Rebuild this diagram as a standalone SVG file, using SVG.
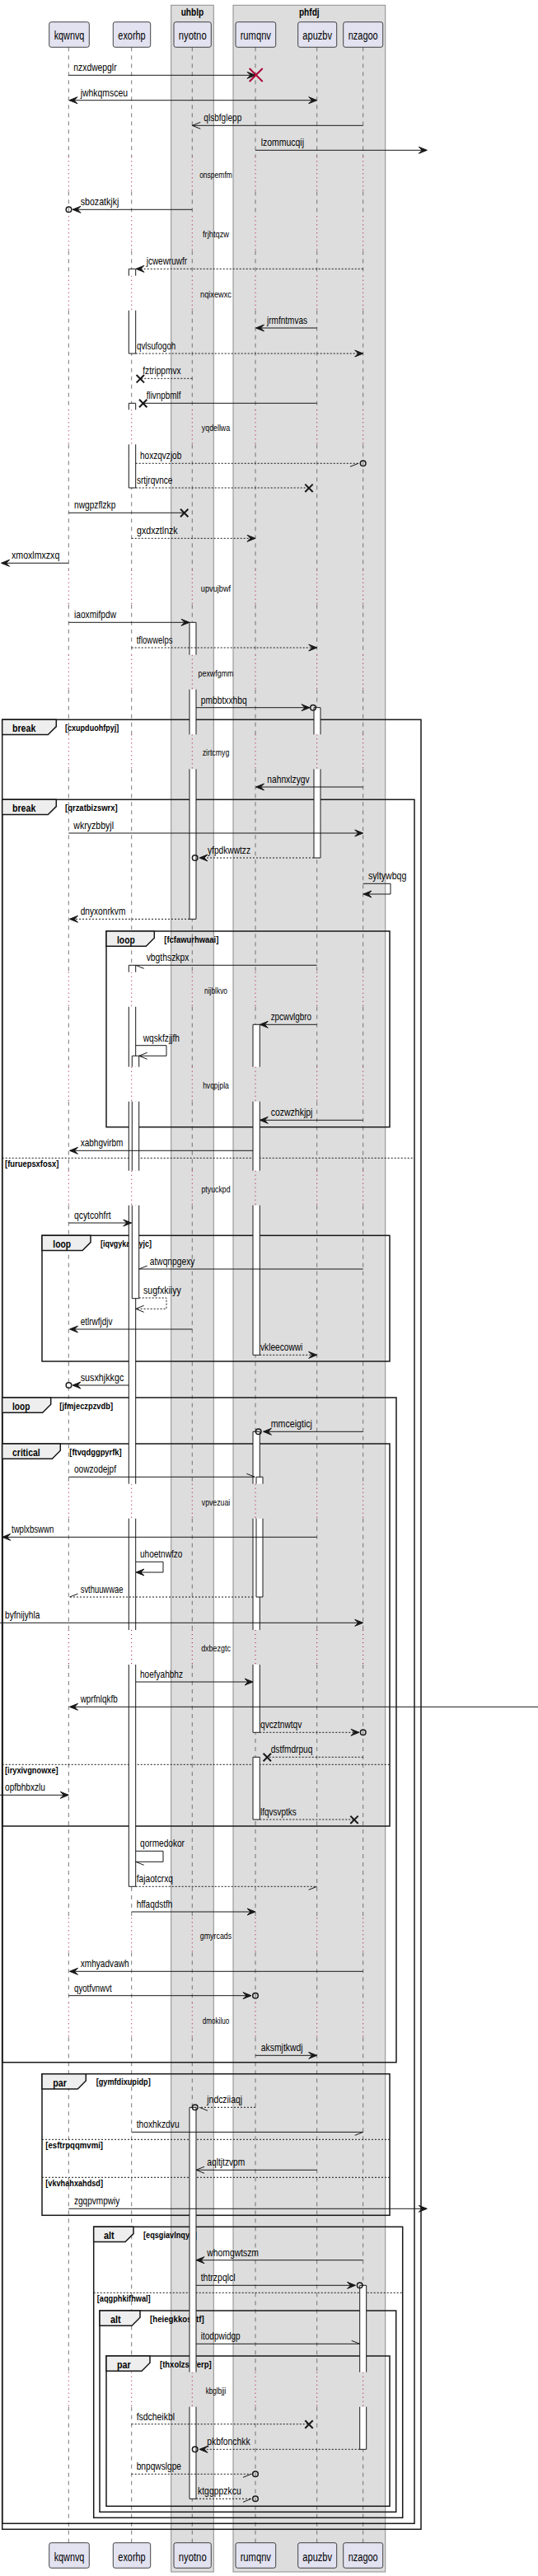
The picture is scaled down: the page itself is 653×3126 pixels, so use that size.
<svg xmlns="http://www.w3.org/2000/svg" xmlns:xlink="http://www.w3.org/1999/xlink" width="653" height="3126" viewBox="0 0 653 3126">
<style>
text{font-family:"Liberation Sans",Arial,sans-serif;fill:#000}
.bx{fill:#DDDDDD;stroke:#8C8C8C;stroke-width:1}
.bt{font-size:13px;font-weight:bold;text-anchor:middle}
.ll{stroke:#555;stroke-width:0.8;stroke-dasharray:5,5;fill:none}
.dl{stroke:#A80036;stroke-width:1;stroke-dasharray:1,4;fill:none}
.pb{fill:#E2E2F0;stroke:#181818;stroke-width:0.8}
.pt{font-size:14px;text-anchor:middle}
.fr{fill:none;stroke:#181818;stroke-width:1.5}
.tab{fill:#EEEEEE;stroke:#181818;stroke-width:1.5}
.tt{font-size:13px;font-weight:bold}
.ct{font-size:11px;font-weight:bold}
.el{stroke:#181818;stroke-width:1;stroke-dasharray:2,2;fill:none}
.af{fill:#fff;stroke:none}
.ae{fill:none;stroke:#181818;stroke-width:1}
.m{stroke:#181818;stroke-width:1;fill:none}
.d{stroke-dasharray:2,2}
.ml{font-size:13px}
.dt{font-size:11px;text-anchor:middle}
.hd{fill:#181818;stroke:#181818;stroke-width:1}
.hs{fill:none;stroke:#181818;stroke-width:1}
.c{fill:none;stroke:#181818;stroke-width:1.5}
.x{stroke:#181818;stroke-width:2;fill:none}
</style>
<defs>
<path id="LD" d="M0,57.3V190.3M0,232.3V262.3M0,304.3V334.7M0,376.7V497.3M0,539.3V691.7M0,733.7V794.7M0,836.7V891.3M0,933.3V1179.7M0,1221.7V1294.7M0,1336.7V1420.7M0,1462.7V1800.7M0,1842.7V1978M0,2020V2327.3M0,2369.3V2430.3M0,2472.3V2878.7M0,2920.7V3085.7"/>
<path id="LZ" d="M0,190.3V232.3M0,262.3V304.3M0,334.7V376.7M0,497.3V539.3M0,691.7V733.7M0,794.7V836.7M0,891.3V933.3M0,1179.7V1221.7M0,1294.7V1336.7M0,1420.7V1462.7M0,1800.7V1842.7M0,1978V2020M0,2327.3V2369.3M0,2430.3V2472.3M0,2878.7V2920.7"/>
<path id="ar" d="M0,0L-10,-4L-6,0L-10,4Z"/>
<path id="al" d="M0,0L10,-4L6,0L10,4Z"/>
<path id="or" d="M-10,-4L0,0L-10,4"/>
<path id="ol" d="M10,-4L0,0L10,4"/>
<path id="hrd" d="M0,0L-10,4"/>
<path id="hru" d="M0,0L-10,-4"/>
<path id="hld" d="M0,0L10,4"/>
<path id="hlu" d="M0,0L10,-4"/>
<path id="xs" d="M-4.7,-4.7L4.7,4.7M-4.7,4.7L4.7,-4.7"/>
</defs>
<rect width="653" height="3126" fill="#fff"/>
<g id="box-uhblp">
<rect class="bx" x="207.7" y="6.3" width="51.6" height="3114.7"/>
<text class="bt" x="233.5" y="18.7" textLength="27.7" lengthAdjust="spacingAndGlyphs">uhblp</text>
</g>
<g id="box-phfdj">
<rect class="bx" x="283" y="6.3" width="184.7" height="3114.7"/>
<text class="bt" x="375.3" y="18.7" textLength="24.7" lengthAdjust="spacingAndGlyphs">phfdj</text>
</g>
<g id="lifelines">
<use href="#LD" x="83.3" class="ll"/><use href="#LZ" x="83.3" class="dl"/>
<use href="#LD" x="159.7" class="ll"/><use href="#LZ" x="159.7" class="dl"/>
<use href="#LD" x="233.3" class="ll"/><use href="#LZ" x="233.3" class="dl"/>
<use href="#LD" x="310" class="ll"/><use href="#LZ" x="310" class="dl"/>
<use href="#LD" x="384.7" class="ll"/><use href="#LZ" x="384.7" class="dl"/>
<use href="#LD" x="440.7" class="ll"/><use href="#LZ" x="440.7" class="dl"/>
</g>
<g id="delays">
<text class="dt" x="262" y="216.3" textLength="39.7" lengthAdjust="spacingAndGlyphs">onspemfm</text>
<text class="dt" x="262" y="288.3" textLength="32" lengthAdjust="spacingAndGlyphs">frjhtqzw</text>
<text class="dt" x="262" y="360.7" textLength="38" lengthAdjust="spacingAndGlyphs">nqixewxc</text>
<text class="dt" x="262" y="523.3" textLength="34.3" lengthAdjust="spacingAndGlyphs">yqdellwa</text>
<text class="dt" x="262" y="717.7" textLength="36.3" lengthAdjust="spacingAndGlyphs">upvujbwf</text>
<text class="dt" x="262" y="820.7" textLength="43" lengthAdjust="spacingAndGlyphs">pexwfgmm</text>
<text class="dt" x="262" y="917.3" textLength="32.7" lengthAdjust="spacingAndGlyphs">zirtcmyg</text>
<text class="dt" x="262" y="1205.7" textLength="28" lengthAdjust="spacingAndGlyphs">nijblkvo</text>
<text class="dt" x="262" y="1320.7" textLength="31.7" lengthAdjust="spacingAndGlyphs">hvqpjpla</text>
<text class="dt" x="262" y="1446.7" textLength="35" lengthAdjust="spacingAndGlyphs">ptyuckpd</text>
<text class="dt" x="262" y="1826.7" textLength="34.3" lengthAdjust="spacingAndGlyphs">vpvezuai</text>
<text class="dt" x="262" y="2004" textLength="35.7" lengthAdjust="spacingAndGlyphs">dxbezgtc</text>
<text class="dt" x="262" y="2353.3" textLength="38.3" lengthAdjust="spacingAndGlyphs">gmyrcads</text>
<text class="dt" x="262" y="2456.3" textLength="32.7" lengthAdjust="spacingAndGlyphs">dmokiluo</text>
<text class="dt" x="262" y="2904.7" textLength="24.7" lengthAdjust="spacingAndGlyphs">kbglbjji</text>
</g>
<g id="frame-break-cxupduohfpyj">
<rect class="fr" x="2.7" y="873.3" width="508.3" height="2196"/>
<polygon class="tab" points="2.7,873.3 68.3,873.3 68.3,881.6 58.3,891.6 2.7,891.6"/>
<text class="tt" x="15" y="888.3" textLength="28.3" lengthAdjust="spacingAndGlyphs">break</text>
<text class="ct" x="79" y="887" textLength="65.3" lengthAdjust="spacingAndGlyphs">[cxupduohfpyj]</text>
</g>
<g id="frame-break-qrzatbizswrx">
<rect class="fr" x="2.7" y="970.3" width="500.3" height="2092"/>
<polygon class="tab" points="2.7,970.3 68.3,970.3 68.3,978.6 58.3,988.6 2.7,988.6"/>
<text class="tt" x="15" y="985.3" textLength="28.3" lengthAdjust="spacingAndGlyphs">break</text>
<text class="ct" x="79" y="984" textLength="63.7" lengthAdjust="spacingAndGlyphs">[qrzatbizswrx]</text>
<path class="el" d="M2.7,1405.3H503"/>
<text class="ct" x="6" y="1416.3" textLength="65.3" lengthAdjust="spacingAndGlyphs">[furuepsxfosx]</text>
</g>
<g id="frame-loop-fcfawurhwaai">
<rect class="fr" x="129" y="1130" width="344" height="237.7"/>
<polygon class="tab" points="129,1130 187.3,1130 187.3,1138.3 177.3,1148.3 129,1148.3"/>
<text class="tt" x="142" y="1145" textLength="21.7" lengthAdjust="spacingAndGlyphs">loop</text>
<text class="ct" x="199.3" y="1143.7" textLength="66" lengthAdjust="spacingAndGlyphs">[fcfawurhwaai]</text>
</g>
<g id="frame-loop-iqvgykahyyjc">
<rect class="fr" x="51" y="1499.3" width="422" height="152.7"/>
<polygon class="tab" points="51,1499.3 110,1499.3 110,1507.6 100,1517.6 51,1517.6"/>
<text class="tt" x="64.3" y="1514.3" textLength="21.7" lengthAdjust="spacingAndGlyphs">loop</text>
<text class="ct" x="122" y="1513" textLength="62" lengthAdjust="spacingAndGlyphs">[iqvgykahyyjc]</text>
</g>
<g id="frame-loop-jfmjeczpzvdb">
<rect class="fr" x="2.7" y="1696" width="478.3" height="806.7"/>
<polygon class="tab" points="2.7,1696 61.7,1696 61.7,1704.3 51.7,1714.3 2.7,1714.3"/>
<text class="tt" x="15" y="1711" textLength="21.3" lengthAdjust="spacingAndGlyphs">loop</text>
<text class="ct" x="72.3" y="1709.7" textLength="64.7" lengthAdjust="spacingAndGlyphs">[jfmjeczpzvdb]</text>
</g>
<g id="frame-critical-ftvqdggpyrfk">
<rect class="fr" x="2.7" y="1752" width="470.3" height="464"/>
<polygon class="tab" points="2.7,1752 73.3,1752 73.3,1760.3 63.3,1770.3 2.7,1770.3"/>
<text class="tt" x="15" y="1767" textLength="33.7" lengthAdjust="spacingAndGlyphs">critical</text>
<text class="ct" x="84.3" y="1765.7" textLength="63.3" lengthAdjust="spacingAndGlyphs">[ftvqdggpyrfk]</text>
<path class="el" d="M2.7,2141.3H473"/>
<text class="ct" x="6" y="2152.3" textLength="64.7" lengthAdjust="spacingAndGlyphs">[iryxivgnowxe]</text>
</g>
<g id="frame-par-gymfdixupidp">
<rect class="fr" x="51" y="2516.7" width="422" height="171.6"/>
<polygon class="tab" points="51,2516.7 104.3,2516.7 104.3,2525 94.3,2535 51,2535"/>
<text class="tt" x="64.3" y="2531.7" textLength="16.7" lengthAdjust="spacingAndGlyphs">par</text>
<text class="ct" x="116.7" y="2530.4" textLength="66" lengthAdjust="spacingAndGlyphs">[gymfdixupidp]</text>
<path class="el" d="M51,2596.3H473"/>
<text class="ct" x="55.3" y="2607.3" textLength="69.7" lengthAdjust="spacingAndGlyphs">[esftrpqqmvmi]</text>
<path class="el" d="M51,2642.3H473"/>
<text class="ct" x="55.3" y="2653.3" textLength="69.7" lengthAdjust="spacingAndGlyphs">[vkvhahxahdsd]</text>
</g>
<g id="frame-alt-eqsgiavlnqyh">
<rect class="fr" x="113.7" y="2702.3" width="375" height="353"/>
<polygon class="tab" points="113.7,2702.3 162,2702.3 162,2710.6 152,2720.6 113.7,2720.6"/>
<text class="tt" x="126" y="2717.3" textLength="12.7" lengthAdjust="spacingAndGlyphs">alt</text>
<text class="ct" x="174" y="2716" textLength="64.7" lengthAdjust="spacingAndGlyphs">[eqsgiavlnqyh]</text>
<path class="el" d="M113.7,2782.3H488.7"/>
<text class="ct" x="117.7" y="2793.3" textLength="65" lengthAdjust="spacingAndGlyphs">[aqgphkifhwal]</text>
</g>
<g id="frame-alt-heiegkkosktf">
<rect class="fr" x="121" y="2804" width="359.7" height="244.3"/>
<polygon class="tab" points="121,2804 170,2804 170,2812.3 160,2822.3 121,2822.3"/>
<text class="tt" x="134" y="2819" textLength="12.7" lengthAdjust="spacingAndGlyphs">alt</text>
<text class="ct" x="182" y="2817.7" textLength="65.7" lengthAdjust="spacingAndGlyphs">[heiegkkosktf]</text>
</g>
<g id="frame-par-thxolzspferp">
<rect class="fr" x="129" y="2859" width="344" height="182.3"/>
<polygon class="tab" points="129,2859 182,2859 182,2867.3 172,2877.3 129,2877.3"/>
<text class="tt" x="142" y="2874" textLength="16.7" lengthAdjust="spacingAndGlyphs">par</text>
<text class="ct" x="194" y="2872.7" textLength="62.7" lengthAdjust="spacingAndGlyphs">[thxolzspferp]</text>
</g>
<g id="activations">
<g id="act-exorhp-1">
<rect class="af" x="156.3" y="326.3" width="8.4" height="8.4"/><rect class="af" x="156.3" y="376.7" width="8.4" height="52.3"/>
<path class="ae" d="M156.3,326.3H164.7M156.3,326.3V334.7M164.7,326.3V334.7M156.3,376.7V429M164.7,376.7V429M156.3,429H164.7"/>
</g>
<g id="act-exorhp-2">
<rect class="af" x="156.3" y="489.3" width="8.4" height="8"/><rect class="af" x="156.3" y="539.3" width="8.4" height="52.7"/>
<path class="ae" d="M156.3,489.3H164.7M156.3,489.3V497.3M164.7,489.3V497.3M156.3,539.3V592M164.7,539.3V592M156.3,592H164.7"/>
</g>
<g id="act-nyotno-1">
<rect class="af" x="230" y="755.3" width="8" height="39.4"/><rect class="af" x="230" y="836.7" width="8" height="54.6"/><rect class="af" x="230" y="933.3" width="8" height="182"/>
<path class="ae" d="M230,755.3H238M230,755.3V794.7M238,755.3V794.7M230,836.7V891.3M238,836.7V891.3M230,933.3V1115.3M238,933.3V1115.3M230,1115.3H238"/>
</g>
<g id="act-apuzbv-1">
<rect class="af" x="381" y="858.7" width="8" height="32.6"/><rect class="af" x="381" y="933.3" width="8" height="107.7"/>
<path class="ae" d="M381,858.7H389M381,858.7V891.3M389,858.7V891.3M381,933.3V1041M389,933.3V1041M381,1041H389"/>
</g>
<g id="act-exorhp-3">
<rect class="af" x="156.3" y="1171.3" width="8.4" height="8.4"/><rect class="af" x="156.3" y="1221.7" width="8.4" height="73"/><rect class="af" x="156.3" y="1336.7" width="8.4" height="84"/><rect class="af" x="156.3" y="1462.7" width="8.4" height="338"/><rect class="af" x="156.3" y="1842.7" width="8.4" height="135.3"/><rect class="af" x="156.3" y="2020" width="8.4" height="269.3"/>
<path class="ae" d="M156.3,1171.3H164.7M156.3,1171.3V1179.7M164.7,1171.3V1179.7M156.3,1221.7V1294.7M164.7,1221.7V1294.7M156.3,1336.7V1420.7M164.7,1336.7V1420.7M156.3,1462.7V1800.7M164.7,1462.7V1800.7M156.3,1842.7V1978M164.7,1842.7V1978M156.3,2020V2289.3M164.7,2020V2289.3M156.3,2289.3H164.7"/>
</g>
<g id="act-exorhp-4">
<rect class="af" x="160.3" y="1281.3" width="8.4" height="13.4"/><rect class="af" x="160.3" y="1336.7" width="8.4" height="84"/><rect class="af" x="160.3" y="1462.7" width="8.4" height="113"/>
<path class="ae" d="M160.3,1281.3H168.7M160.3,1281.3V1294.7M168.7,1281.3V1294.7M160.3,1336.7V1420.7M168.7,1336.7V1420.7M160.3,1462.7V1575.7M168.7,1462.7V1575.7M160.3,1575.7H168.7"/>
</g>
<g id="act-rumqnv-1">
<rect class="af" x="307" y="1243.3" width="8.3" height="51.4"/><rect class="af" x="307" y="1336.7" width="8.3" height="84"/><rect class="af" x="307" y="1462.7" width="8.3" height="181.6"/>
<path class="ae" d="M307,1243.3H315.3M307,1243.3V1294.7M315.3,1243.3V1294.7M307,1336.7V1420.7M315.3,1336.7V1420.7M307,1462.7V1644.3M315.3,1462.7V1644.3M307,1644.3H315.3"/>
</g>
<g id="act-rumqnv-2">
<rect class="af" x="307" y="1737.3" width="8.3" height="63.4"/><rect class="af" x="307" y="1842.7" width="8.3" height="135.3"/><rect class="af" x="307" y="2020" width="8.3" height="82.3"/>
<path class="ae" d="M307,1737.3H315.3M307,1737.3V1800.7M315.3,1737.3V1800.7M307,1842.7V1978M315.3,1842.7V1978M307,2020V2102.3M315.3,2020V2102.3M307,2102.3H315.3"/>
</g>
<g id="act-rumqnv-3">
<rect class="af" x="311" y="1792.3" width="8" height="8.4"/><rect class="af" x="311" y="1842.7" width="8" height="95.3"/>
<path class="ae" d="M311,1792.3H319M311,1792.3V1800.7M319,1792.3V1800.7M311,1842.7V1938M319,1842.7V1938M311,1938H319"/>
</g>
<g id="act-rumqnv-4">
<rect class="af" x="307" y="2132.3" width="8.3" height="75.7"/>
<path class="ae" d="M307,2132.3H315.3V2208H307Z"/>
</g>
<g id="act-nyotno-2">
<rect class="af" x="230" y="2557.3" width="8" height="321.4"/><rect class="af" x="230" y="2920.7" width="8" height="111.6"/>
<path class="ae" d="M230,2557.3H238M230,2557.3V2878.7M238,2557.3V2878.7M230,2920.7V3032.3M238,2920.7V3032.3M230,3032.3H238"/>
</g>
<g id="act-nzagoo-1">
<rect class="af" x="436.7" y="2773.3" width="8" height="105.4"/><rect class="af" x="436.7" y="2920.7" width="8" height="51.6"/>
<path class="ae" d="M436.7,2773.3H444.7M436.7,2773.3V2878.7M444.7,2773.3V2878.7M436.7,2920.7V2972.3M444.7,2920.7V2972.3M436.7,2972.3H444.7"/>
</g>
</g>
<g id="connectors">
<path class="m" d="M83.3,91.3H310"/><use href="#ar" x="310" y="91.3" class="hd"/>
<path d="M302.7,83L318.7,99M302.7,99L318.7,83" stroke="#A80036" stroke-width="2" fill="none"/>
<text class="ml" x="89.3" y="86.3" textLength="52.3" lengthAdjust="spacingAndGlyphs">nzxdwepglr</text>

<path class="m" d="M84,121.7H384"/><use href="#al" x="84" y="121.7" class="hd"/><use href="#ar" x="384.7" y="121.7" class="hd"/>
<text class="ml" x="97.7" y="116.7" textLength="57.3" lengthAdjust="spacingAndGlyphs">jwhkqmsceu</text>

<path class="m" d="M440.7,152.3H233.3"/><use href="#ol" x="233.3" y="152.3" class="hs"/>
<text class="ml" x="247.3" y="147.3" textLength="46" lengthAdjust="spacingAndGlyphs">qlsbfglepp</text>

<path class="m" d="M310,182.3H518"/><use href="#ar" x="518.3" y="182.3" class="hd"/>
<text class="ml" x="316.7" y="177.3" textLength="52.3" lengthAdjust="spacingAndGlyphs">lzommucqij</text>

<path class="m" d="M233.3,254.3H88"/><use href="#al" x="88" y="254.3" class="hd"/><circle class="c" cx="83.5" cy="254.3" r="3.3"/>
<text class="ml" x="97.7" y="249.3" textLength="46.7" lengthAdjust="spacingAndGlyphs">sbozatkjkj</text>

<path class="m d" d="M440.7,326.3H165"/><use href="#al" x="165" y="326.3" class="hd"/>
<text class="ml" x="177.7" y="321.3" textLength="49.3" lengthAdjust="spacingAndGlyphs">jcwewruwfr</text>

<path class="m" d="M384.7,398H311"/><use href="#al" x="310.5" y="398" class="hd"/>
<text class="ml" x="324" y="393" textLength="49" lengthAdjust="spacingAndGlyphs">jrmfntmvas</text>

<path class="m d" d="M164.7,429H440"/><use href="#ar" x="440.7" y="429" class="hd"/>
<text class="ml" x="166" y="424" textLength="47.3" lengthAdjust="spacingAndGlyphs">qvlsufogoh</text>

<path class="m d" d="M233.3,459.3H170.3"/><use href="#xs" x="170.3" y="459.7" class="x"/>
<text class="ml" x="173.3" y="454.3" textLength="46.3" lengthAdjust="spacingAndGlyphs">fztrippmvx</text>

<path class="m" d="M384.7,489.3H173.7"/><use href="#xs" x="173.7" y="489.5" class="x"/>
<text class="ml" x="177.7" y="484.3" textLength="41.7" lengthAdjust="spacingAndGlyphs">flivnpbmlf</text>

<path class="m d" d="M164.7,562.3H437"/><use href="#hrd" x="435" y="562.3" class="hs"/><circle class="c" cx="440.7" cy="562.3" r="3.3"/>
<text class="ml" x="170" y="557.3" textLength="50.3" lengthAdjust="spacingAndGlyphs">hoxzqvzjob</text>

<path class="m d" d="M164.7,592H375"/><use href="#xs" x="375" y="592.3" class="x"/>
<text class="ml" x="166" y="587" textLength="43.3" lengthAdjust="spacingAndGlyphs">srtjrqvnce</text>

<path class="m" d="M83.3,622.3H223.7"/><use href="#xs" x="223.7" y="622.5" class="x"/>
<text class="ml" x="90" y="617.3" textLength="50.3" lengthAdjust="spacingAndGlyphs">nwgpzflzkp</text>

<path class="m d" d="M159.7,653.3H309"/><use href="#ar" x="310" y="653.3" class="hd"/>
<text class="ml" x="166" y="648.3" textLength="49.7" lengthAdjust="spacingAndGlyphs">gxdxztlnzk</text>

<path class="m" d="M83.3,683.3H2"/><use href="#al" x="1.5" y="683.3" class="hd"/>
<text class="ml" x="14" y="678.3" textLength="58.3" lengthAdjust="spacingAndGlyphs">xmoxlmxzxq</text>

<path class="m" d="M83.3,755.3H229"/><use href="#ar" x="230" y="755.3" class="hd"/>
<text class="ml" x="90" y="750.3" textLength="51" lengthAdjust="spacingAndGlyphs">iaoxmifpdw</text>

<path class="m d" d="M159.7,786H384"/><use href="#ar" x="384.7" y="786" class="hd"/>
<text class="ml" x="165.7" y="781" textLength="43.7" lengthAdjust="spacingAndGlyphs">tflowwelps</text>

<path class="m" d="M238,858.7H375"/><use href="#ar" x="376" y="858.7" class="hd"/><circle class="c" cx="380" cy="858.7" r="3.3"/>
<text class="ml" x="243.7" y="853.7" textLength="56" lengthAdjust="spacingAndGlyphs">pmbbtxxhbq</text>

<path class="m" d="M440.7,955H311"/><use href="#al" x="310.5" y="955" class="hd"/>
<text class="ml" x="324.3" y="950" textLength="51.3" lengthAdjust="spacingAndGlyphs">nahnxlzygv</text>

<path class="m" d="M83.3,1011H440"/><use href="#ar" x="440.7" y="1011" class="hd"/>
<text class="ml" x="89.3" y="1006" textLength="48.7" lengthAdjust="spacingAndGlyphs">wkryzbbyjl</text>

<path class="m d" d="M381,1041H243"/><use href="#al" x="242" y="1041" class="hd"/><circle class="c" cx="236.7" cy="1041" r="3.3"/>
<text class="ml" x="252" y="1036" textLength="52" lengthAdjust="spacingAndGlyphs">yfpdkwwtzz</text>

<path class="m" d="M440.7,1072.3H474V1085H442"/><use href="#al" x="441" y="1085" class="hd"/>
<text class="ml" x="447" y="1067.3" textLength="46.3" lengthAdjust="spacingAndGlyphs">syltywbqg</text>

<path class="m d" d="M230,1115.3H85"/><use href="#al" x="84.5" y="1115.3" class="hd"/>
<text class="ml" x="97.7" y="1110.3" textLength="54.7" lengthAdjust="spacingAndGlyphs">dnyxonrkvm</text>

<path class="m" d="M384.7,1171.3H164.7"/><use href="#hld" x="164.7" y="1171.3" class="hs"/>
<text class="ml" x="177.7" y="1166.3" textLength="51.7" lengthAdjust="spacingAndGlyphs">vbgthszkpx</text>

<path class="m" d="M384.7,1243.3H316"/><use href="#al" x="315.3" y="1243.3" class="hd"/>
<text class="ml" x="328.7" y="1238.3" textLength="49.3" lengthAdjust="spacingAndGlyphs">zpcwvlgbro</text>

<path class="m" d="M164.7,1268.7H202V1281.3H168.7"/><use href="#ol" x="168.7" y="1281.3" class="hs"/>
<text class="ml" x="173.7" y="1263.7" textLength="44.3" lengthAdjust="spacingAndGlyphs">wqskfzjjfh</text>

<path class="m" d="M440.7,1359.3H316"/><use href="#al" x="315.3" y="1359.3" class="hd"/>
<text class="ml" x="328.7" y="1354.3" textLength="50.7" lengthAdjust="spacingAndGlyphs">cozwzhkjpj</text>

<path class="m" d="M307,1396.3H85"/><use href="#al" x="84.5" y="1396.3" class="hd"/>
<text class="ml" x="97.7" y="1391.3" textLength="51.7" lengthAdjust="spacingAndGlyphs">xabhgvirbm</text>

<path class="m" d="M83.3,1484H159"/><use href="#ar" x="159.7" y="1484" class="hd"/>
<text class="ml" x="90" y="1479" textLength="44.7" lengthAdjust="spacingAndGlyphs">qcytcohfrt</text>

<path class="m" d="M440.7,1540H168.7"/><use href="#hlu" x="168.7" y="1540" class="hs"/>
<text class="ml" x="181.7" y="1535" textLength="54.7" lengthAdjust="spacingAndGlyphs">atwqnpgexy</text>

<path class="m d" d="M168.7,1575H202V1588.3H164.7"/><use href="#ol" x="164.7" y="1588.3" class="hs"/>
<text class="ml" x="174" y="1570.3" textLength="45.7" lengthAdjust="spacingAndGlyphs">sugfxkiiyy</text>

<path class="m" d="M233.3,1613H85"/><use href="#al" x="84.5" y="1613" class="hd"/>
<text class="ml" x="97.7" y="1608" textLength="38.7" lengthAdjust="spacingAndGlyphs">etlrwfjdjv</text>

<path class="m d" d="M315.3,1644.3H384"/><use href="#ar" x="384.7" y="1644.3" class="hd"/>
<text class="ml" x="316" y="1639.3" textLength="51.3" lengthAdjust="spacingAndGlyphs">vkleecowwi</text>

<path class="m" d="M156.3,1681H89"/><use href="#al" x="88" y="1681" class="hd"/><circle class="c" cx="83.5" cy="1681" r="3.3"/>
<text class="ml" x="97.7" y="1676" textLength="52.7" lengthAdjust="spacingAndGlyphs">susxhjkkgc</text>

<path class="m" d="M440.7,1737.3H320"/><use href="#al" x="319.5" y="1737.3" class="hd"/><circle class="c" cx="313.7" cy="1737.3" r="3.3"/>
<text class="ml" x="328.7" y="1732.3" textLength="50.3" lengthAdjust="spacingAndGlyphs">mmceigticj</text>

<path class="m" d="M83.3,1792.3H309.3"/><use href="#hru" x="309.3" y="1792.3" class="hs"/>
<text class="ml" x="90" y="1787.3" textLength="51" lengthAdjust="spacingAndGlyphs">oowzodejpf</text>

<path class="m" d="M384.7,1865.3H3"/><use href="#al" x="2.7" y="1865.3" class="hd"/>
<text class="ml" x="14" y="1860.3" textLength="51.3" lengthAdjust="spacingAndGlyphs">twplxbswwn</text>

<path class="m" d="M164.7,1895.3H198V1908H166"/><use href="#al" x="165" y="1908" class="hd"/>
<text class="ml" x="170" y="1890.3" textLength="51.3" lengthAdjust="spacingAndGlyphs">uhoetnwfzo</text>

<path class="m d" d="M307,1938H84.5"/><use href="#hlu" x="84.5" y="1938" class="hs"/>
<text class="ml" x="97.7" y="1933" textLength="51.7" lengthAdjust="spacingAndGlyphs">svthuuwwae</text>

<path class="m" d="M0,1969.3H440"/><use href="#ar" x="440.7" y="1969.3" class="hd"/>
<text class="ml" x="6" y="1964.3" textLength="42.3" lengthAdjust="spacingAndGlyphs">byfnijyhla</text>

<path class="m" d="M164.7,2041H306"/><use href="#ar" x="307" y="2041" class="hd"/>
<text class="ml" x="170" y="2036" textLength="52" lengthAdjust="spacingAndGlyphs">hoefyahbhz</text>

<path class="m" d="M653,2071.3H85"/><use href="#al" x="84.5" y="2071.3" class="hd"/>
<text class="ml" x="97.7" y="2066.3" textLength="45" lengthAdjust="spacingAndGlyphs">wprfnlqkfb</text>

<path class="m d" d="M315.3,2102.3H435"/><use href="#ar" x="436" y="2102.3" class="hd"/><circle class="c" cx="440.7" cy="2102.3" r="3.3"/>
<text class="ml" x="316" y="2097.3" textLength="50.3" lengthAdjust="spacingAndGlyphs">qvcztnwtqv</text>

<path class="m d" d="M440.7,2132.3H324.3"/><use href="#xs" x="324.3" y="2132.5" class="x"/>
<text class="ml" x="328.7" y="2127.3" textLength="50.7" lengthAdjust="spacingAndGlyphs">dstfmdrpuq</text>

<path class="m" d="M0,2178.3H82.5"/><use href="#ar" x="83.3" y="2178.3" class="hd"/>
<text class="ml" x="6" y="2173.3" textLength="49" lengthAdjust="spacingAndGlyphs">opfbhbxzlu</text>

<path class="m d" d="M315.3,2208H430"/><use href="#xs" x="430" y="2208.3" class="x"/>
<text class="ml" x="316" y="2203" textLength="43.7" lengthAdjust="spacingAndGlyphs">lfqvsvptks</text>

<path class="m" d="M164.7,2246.3H198V2259.3H164.7"/><use href="#hld" x="164.7" y="2259.3" class="hs"/>
<text class="ml" x="170" y="2241.3" textLength="54" lengthAdjust="spacingAndGlyphs">qormedokor</text>

<path class="m d" d="M164.7,2289.3H384.7"/><use href="#hrd" x="384.7" y="2289.3" class="hs"/>
<text class="ml" x="165.7" y="2284.3" textLength="44.3" lengthAdjust="spacingAndGlyphs">fajaotcrxq</text>

<path class="m" d="M159.7,2320H309"/><use href="#ar" x="310" y="2320" class="hd"/>
<text class="ml" x="165.7" y="2315" textLength="43.7" lengthAdjust="spacingAndGlyphs">hffaqdstfh</text>

<path class="m" d="M440.7,2392.3H85"/><use href="#al" x="84.5" y="2392.3" class="hd"/>
<text class="ml" x="97.7" y="2387.3" textLength="59" lengthAdjust="spacingAndGlyphs">xmhyadvawh</text>

<path class="m" d="M83.3,2421.7H304"/><use href="#ar" x="305" y="2421.7" class="hd"/><circle class="c" cx="310" cy="2421.7" r="3.3"/>
<text class="ml" x="90" y="2416.7" textLength="45.7" lengthAdjust="spacingAndGlyphs">qyotfvnwvt</text>

<path class="m" d="M310,2494.3H384"/><use href="#ar" x="384.7" y="2494.3" class="hd"/>
<text class="ml" x="316.7" y="2489.3" textLength="51" lengthAdjust="spacingAndGlyphs">aksmjtkwdj</text>

<path class="m d" d="M310,2557.3H242"/><use href="#hld" x="242" y="2557.3" class="hs"/><circle class="c" cx="236.7" cy="2557.3" r="3.3"/>
<text class="ml" x="251.3" y="2552.3" textLength="42.7" lengthAdjust="spacingAndGlyphs">jndcziiaqj</text>

<path class="m" d="M159.7,2587.3H440.7"/><use href="#hrd" x="440.7" y="2587.3" class="hs"/>
<text class="ml" x="165.7" y="2582.3" textLength="52" lengthAdjust="spacingAndGlyphs">thoxhkzdvu</text>

<path class="m" d="M384.7,2633.3H238"/><use href="#ol" x="238" y="2633.3" class="hs"/>
<text class="ml" x="251.3" y="2628.3" textLength="46" lengthAdjust="spacingAndGlyphs">aqltjtzvpm</text>

<path class="m" d="M83.3,2680.3H518"/><use href="#ar" x="518.3" y="2680.3" class="hd"/>
<text class="ml" x="90" y="2675.3" textLength="55.3" lengthAdjust="spacingAndGlyphs">zgqpvmpwiy</text>

<path class="m" d="M440.7,2742.7H239"/><use href="#al" x="238" y="2742.7" class="hd"/>
<text class="ml" x="251.3" y="2737.7" textLength="62.7" lengthAdjust="spacingAndGlyphs">whomgwtszm</text>

<path class="m" d="M238,2773.3H430.5"/><use href="#ar" x="431.5" y="2773.3" class="hd"/><circle class="c" cx="436.7" cy="2773.3" r="3.3"/>
<text class="ml" x="243.7" y="2768.3" textLength="42" lengthAdjust="spacingAndGlyphs">thtrzpqlcl</text>

<path class="m" d="M238,2844.3H436.7"/><use href="#hru" x="436.7" y="2844.3" class="hs"/>
<text class="ml" x="243.7" y="2839.3" textLength="48" lengthAdjust="spacingAndGlyphs">itodpwidgp</text>

<path class="m d" d="M159.7,2941.7H375"/><use href="#xs" x="375" y="2942" class="x"/>
<text class="ml" x="165.7" y="2936.7" textLength="46.3" lengthAdjust="spacingAndGlyphs">fsdcheikbl</text>

<path class="m d" d="M436.7,2972.3H243"/><use href="#al" x="242" y="2972.3" class="hd"/><circle class="c" cx="236.7" cy="2972.3" r="3.3"/>
<text class="ml" x="251.3" y="2967.3" textLength="52.3" lengthAdjust="spacingAndGlyphs">pkbfonchkk</text>

<path class="m d" d="M159.7,3002.3H306.5"/><use href="#hrd" x="305" y="3002.3" class="hs"/><circle class="c" cx="310" cy="3002.3" r="3.3"/>
<text class="ml" x="165.7" y="2997.3" textLength="54.3" lengthAdjust="spacingAndGlyphs">bnpqwslgpe</text>

<path class="m d" d="M238,3032.3H306.5"/><use href="#hrd" x="305" y="3032.3" class="hs"/><circle class="c" cx="310" cy="3032.3" r="3.3"/>
<text class="ml" x="240" y="3027.3" textLength="52.7" lengthAdjust="spacingAndGlyphs">ktggppzkcu</text>
</g>
<g id="p-kqwnvq">
<rect class="pb" x="59.7" y="26.7" width="48.6" height="30.6" rx="2.5"/><text class="pt" x="84" y="47.5" textLength="36.7" lengthAdjust="spacingAndGlyphs">kqwnvq</text>
<rect class="pb" x="59.7" y="3085.7" width="48.6" height="30.6" rx="2.5"/><text class="pt" x="84" y="3107.5" textLength="36.7" lengthAdjust="spacingAndGlyphs">kqwnvq</text>
</g>
<g id="p-exorhp">
<rect class="pb" x="137.3" y="26.7" width="45.4" height="30.6" rx="2.5"/><text class="pt" x="160" y="47.5" textLength="33.3" lengthAdjust="spacingAndGlyphs">exorhp</text>
<rect class="pb" x="137.3" y="3085.7" width="45.4" height="30.6" rx="2.5"/><text class="pt" x="160" y="3107.5" textLength="33.3" lengthAdjust="spacingAndGlyphs">exorhp</text>
</g>
<g id="p-nyotno">
<rect class="pb" x="211" y="26.7" width="45.3" height="30.6" rx="2.5"/><text class="pt" x="233.7" y="47.5" textLength="34" lengthAdjust="spacingAndGlyphs">nyotno</text>
<rect class="pb" x="211" y="3085.7" width="45.3" height="30.6" rx="2.5"/><text class="pt" x="233.7" y="3107.5" textLength="34" lengthAdjust="spacingAndGlyphs">nyotno</text>
</g>
<g id="p-rumqnv">
<rect class="pb" x="286" y="26.7" width="48.7" height="30.6" rx="2.5"/><text class="pt" x="310.3" y="47.5" textLength="37.3" lengthAdjust="spacingAndGlyphs">rumqnv</text>
<rect class="pb" x="286" y="3085.7" width="48.7" height="30.6" rx="2.5"/><text class="pt" x="310.3" y="3107.5" textLength="37.3" lengthAdjust="spacingAndGlyphs">rumqnv</text>
</g>
<g id="p-apuzbv">
<rect class="pb" x="361.7" y="26.7" width="47" height="30.6" rx="2.5"/><text class="pt" x="385.2" y="47.5" textLength="35.7" lengthAdjust="spacingAndGlyphs">apuzbv</text>
<rect class="pb" x="361.7" y="3085.7" width="47" height="30.6" rx="2.5"/><text class="pt" x="385.2" y="3107.5" textLength="35.7" lengthAdjust="spacingAndGlyphs">apuzbv</text>
</g>
<g id="p-nzagoo">
<rect class="pb" x="416.7" y="26.7" width="48" height="30.6" rx="2.5"/><text class="pt" x="440.7" y="47.5" textLength="36" lengthAdjust="spacingAndGlyphs">nzagoo</text>
<rect class="pb" x="416.7" y="3085.7" width="48" height="30.6" rx="2.5"/><text class="pt" x="440.7" y="3107.5" textLength="36" lengthAdjust="spacingAndGlyphs">nzagoo</text>
</g>
</svg>
